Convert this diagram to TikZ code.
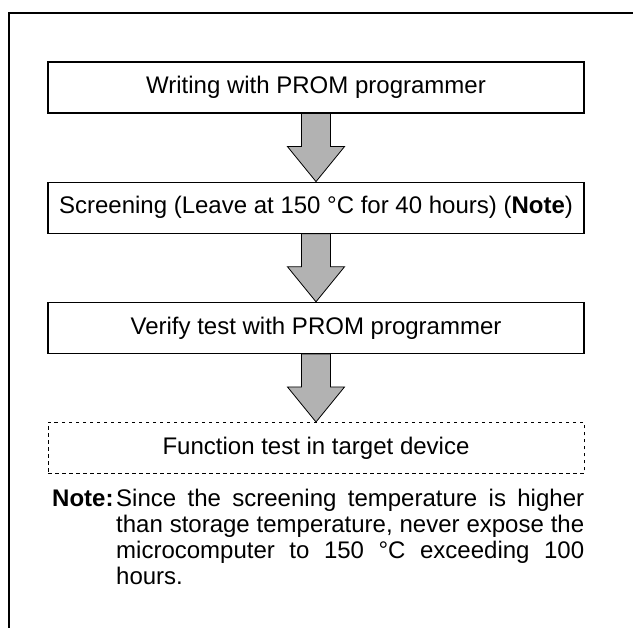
\documentclass[tikz,border=0pt]{standalone}
\usepackage{fontspec}
\setmainfont{Liberation Sans}
\usetikzlibrary{positioning,calc,backgrounds}
\definecolor{pijlgrijs}{gray}{0.70}
\tikzset{
  blok/.style        = {draw, line width=1.2pt, minimum width=536pt, minimum height=51pt,
                        inner sep=0pt, align=center, font=\fontsize{24}{27}\selectfont},
  blokstippel/.style = {blok, line width=1pt, dash pattern=on 3.5pt off 3.5pt},
  pijlvorm/.style    = {draw, line width=0.8pt, fill=pijlgrijs, line join=miter},
  kader/.style       = {line width=1.8pt},
  notelabel/.style   = {inner sep=0pt, font=\fontsize{24}{25.7}\selectfont\bfseries},
  notetekst/.style   = {inner sep=0pt, text width=468pt, align=justify,
                        font=\fontsize{24}{25.7}\selectfont}
}

\begin{document}
\begin{tikzpicture}[x=1pt, y=1pt, node distance=68pt]
    \useasboundingbox (0,0) rectangle (633,-628);
    \draw[kader] (9,-640) -- (9,-13) -- (645,-13);

    \node[blok] (wr) at (316,-87.5) {Writing with PROM programmer};
    \node[blok, below=of wr] (scr) {Screening (Leave at 150 °C for 40 hours) (\textbf{Note})};
    \node[blok, below=of scr] (ver) {Verify test with PROM programmer};
    \node[blokstippel, below=of ver] (fun) {Function test in target device};

    \node[notelabel, anchor=base west] (nl) at (52,-507) {Note:};
    \node[notetekst, anchor=base west] (nt) at (116,-507)
        {Since the screening temperature is higher\linebreak
         than storage temperature, never expose the\linebreak
         microcomputer to 150 °C exceeding 100\linebreak
         hours.};

    \begin{scope}[on background layer]
        \foreach \van/\naar in {wr/scr, scr/ver, ver/fun}
            \draw[pijlvorm] ($(\van.south)+(-14.5,0)$) -- ++(0,-33) -- ++(-14,0)
                -- (\naar.north) -- ($(\van.south)+(28.5,-33)$) -- ++(-14,0)
                -- ($(\van.south)+(14.5,0)$) -- cycle;
    \end{scope}
\end{tikzpicture}
\end{document}
